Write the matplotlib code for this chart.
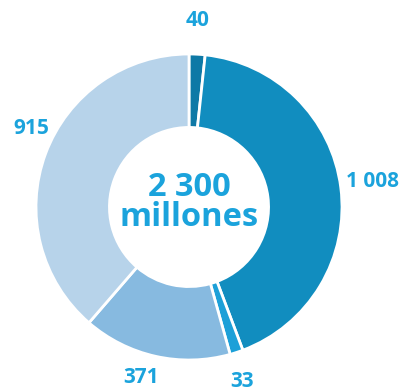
import numpy as np
import matplotlib
matplotlib.use("Agg")
import matplotlib.pyplot as plt

# segment values, clockwise from the top
values = [40, 1008, 33, 371, 915]
labels = ["40", "1 008", "33", "371", "915"]
colors = ["#0e79a6", "#118dbf", "#1ca0d8", "#87bae0", "#b7d3ea"]
center_lines = ["2 300", "millones"]

# label placement: distance from centre and small angle nudge (deg)
label_dist = [1.22, 1.21, 1.19, 1.16, 1.15]
label_shift = [0.5, 0.5, -1.1, -3.1, -5.9]

text_color = "#1ba3dc"

fig = plt.figure(figsize=(4.02, 3.91), dpi=100)
ax = fig.add_axes([0, 0, 1, 1])

wedges, _ = ax.pie(
    values,
    colors=colors,
    startangle=90,
    counterclock=False,
    radius=1.0,
    wedgeprops=dict(width=0.48, edgecolor="white", linewidth=2),
)

# value labels just outside each wedge
total = sum(values)
cum = np.cumsum([0] + values)
for i, lab in enumerate(labels):
    mid = (cum[i] + cum[i + 1]) / 2 / total * 360
    ang = np.deg2rad(90 - mid + label_shift[i])
    r = label_dist[i]
    ax.text(r * np.cos(ang), r * np.sin(ang), lab, ha="center", va="center",
            fontsize=15, fontweight="bold", family="Open Sans", color=text_color)

ax.text(0, 0.13, center_lines[0], ha="center", va="center", fontsize=23.5,
        fontweight="bold", family="Open Sans", color=text_color)
ax.text(0, -0.07, center_lines[1], ha="center", va="center", fontsize=23.5,
        fontweight="bold", family="Open Sans", color=text_color)

ax.set_xlim(-189 / 153, (402 - 189) / 153)
ax.set_ylim(-184 / 153, (391 - 184) / 153)
ax.set_aspect("auto")
ax.axis("off")

fig.savefig("out.png", dpi=100)
